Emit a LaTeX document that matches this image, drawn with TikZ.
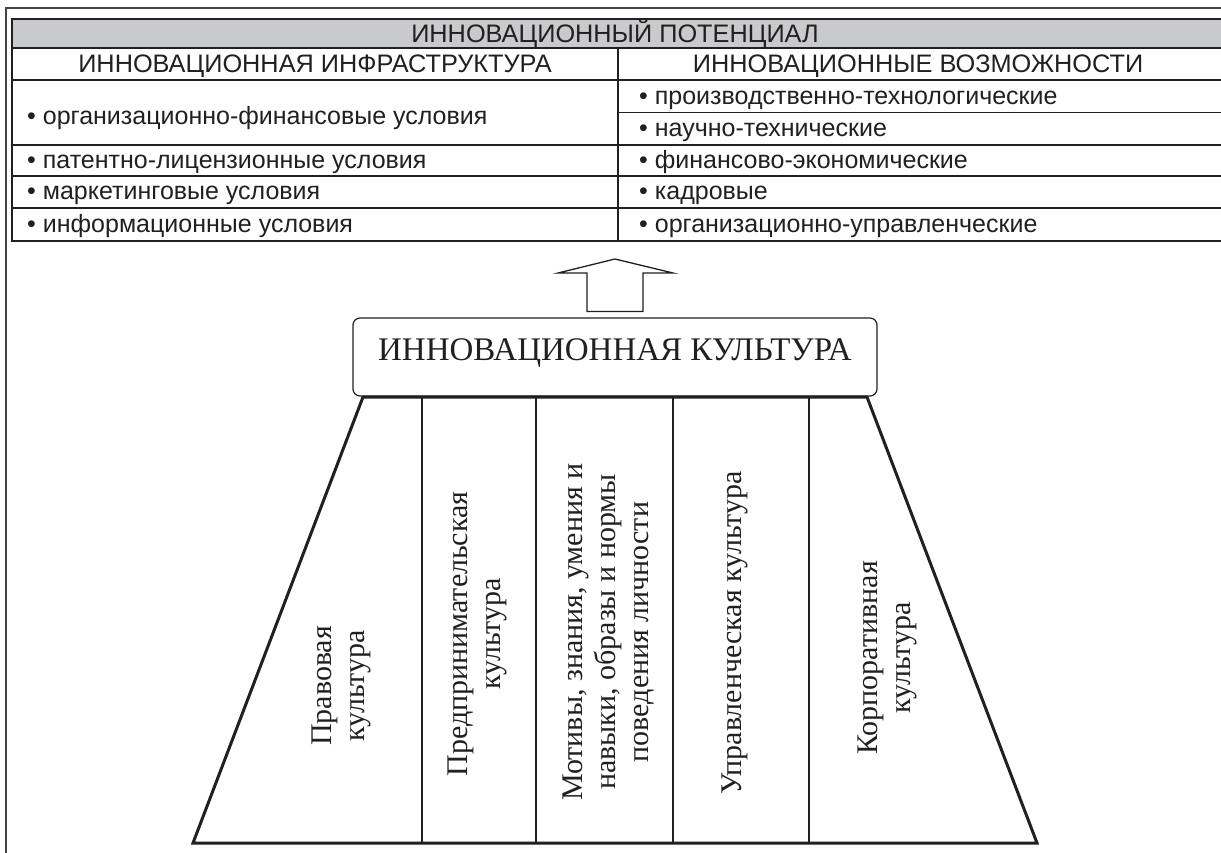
\documentclass[tikz,border=0pt]{standalone}
\usepackage{fontspec}
\setmainfont{Liberation Serif}
\setsansfont{Liberation Sans}
\definecolor{ink}{RGB}{35,31,32}
\definecolor{hdr}{RGB}{201,202,204}
\begin{document}
\begin{tikzpicture}[x=1pt,y=-1pt,
  tline/.style={line width=1.8pt,draw=ink},
  frameline/.style={line width=1.4pt,draw=ink!85},
  hdrtext/.style={font=\sffamily\fontsize{25.3}{27}\selectfont,text=ink,inner sep=0pt},
  itemtext/.style={font=\sffamily\fontsize{25}{27}\selectfont,text=ink,anchor=base west,inner sep=0pt},
  rottext/.style={font=\rmfamily\fontsize{30}{33}\selectfont,text=ink,rotate=90,align=center,inner sep=0pt},
  culture/.style={draw=ink,line width=1.2pt,rounded corners=7pt,minimum width=524pt,minimum height=78pt,
     font=\rmfamily\fontsize{33}{35}\selectfont,text=ink,inner sep=0pt,text height=22pt,text depth=16pt},
  trap/.style={line width=3pt,draw=ink,line join=miter},
  divline/.style={line width=2pt,draw=ink},
  bigarrow/.style={line width=1.3pt,draw=ink,fill=white,line join=miter}]
\useasboundingbox (0,0) rectangle (1221,852);
\begin{scope}
\clip (0,0) rectangle (1221,852);
% outer frame
\coordinate (fTL) at (6,8);
\draw[frameline] (1230,8) -- (fTL) -- (6,860);
% table
\fill[hdr] (12,19) rectangle (1230,48);
\draw[tline] (12,19) rectangle (1230,241);
\draw[tline] (12,48) -- (1230,48);
\draw[tline] (12,80) -- (1230,80);
\draw[tline] (618,112.5) -- (1230,112.5);
\draw[tline] (12,145) -- (1230,145);
\draw[tline] (12,176) -- (1230,176);
\draw[tline] (12,208) -- (1230,208);
\draw[tline] (618,48) -- (618,241);
\end{scope}
\node[hdrtext,anchor=base] (pot) at (615,42) {ИННОВАЦИОННЫЙ ПОТЕНЦИАЛ};
\node[hdrtext,anchor=base] (infra) at (315,72.5) {ИННОВАЦИОННАЯ ИНФРАСТРУКТУРА};
\node[hdrtext,anchor=base] (vozm) at (918,72.5) {ИННОВАЦИОННЫЕ ВОЗМОЖНОСТИ};
\node[itemtext] (l1) at (27,124) {• организационно-финансовые условия};
\node[itemtext] (l2) at (27,168) {• патентно-лицензионные условия};
\node[itemtext] (l3) at (27,199) {• маркетинговые условия};
\node[itemtext] (l4) at (27,232.5) {• информационные условия};
\node[itemtext] (r1) at (639,104) {• производственно-технологические};
\node[itemtext] (r2) at (639,136.5) {• научно-технические};
\node[itemtext] (r3) at (639,168) {• финансово-экономические};
\node[itemtext] (r4) at (639,199) {• кадровые};
\node[itemtext] (r5) at (639,232.5) {• организационно-управленческие};
% culture box
\node[culture] (cult) at (615,357) {ИННОВАЦИОННАЯ КУЛЬТУРА};
% arrow from culture box to table
\coordinate (aB) at (cult.north);
\coordinate (aT) at (615,259);
\draw[bigarrow] ([xshift=-28pt,yshift=6pt]aB) -- (587,273) -- (558,273) -- (aT) -- (673,273) -- (643,273) -- ([xshift=28pt,yshift=6pt]aB) -- cycle;
% trapezoid
\coordinate (tTL) at (363,397);
\coordinate (tTR) at (867,397);
\coordinate (tBR) at (1037,843);
\coordinate (tBL) at (193,843);
\draw[divline] (422,397) -- (422,843);
\draw[divline] (536,397) -- (536,843);
\draw[divline] (673,397) -- (673,843);
\draw[divline] (809,397) -- (809,843);
\draw[trap] (tTL) -- (tTR) -- (tBR) -- (tBL) -- cycle;
% rotated texts
\node[rottext] (c1) at (341,686) {Правовая\\культура};
\node[rottext] (c2) at (477,634) {Предпринимательская\\культура};
\node[rottext] (c3) at (609,632) {Мотивы, знания, умения и\\навыки, образы и нормы\\поведения личности};
\node[rottext] (c4) at (735,633) {Управленческая культура};
\node[rottext] (c5) at (887,658) {Корпоративная\\культура};
\end{tikzpicture}
\end{document}
